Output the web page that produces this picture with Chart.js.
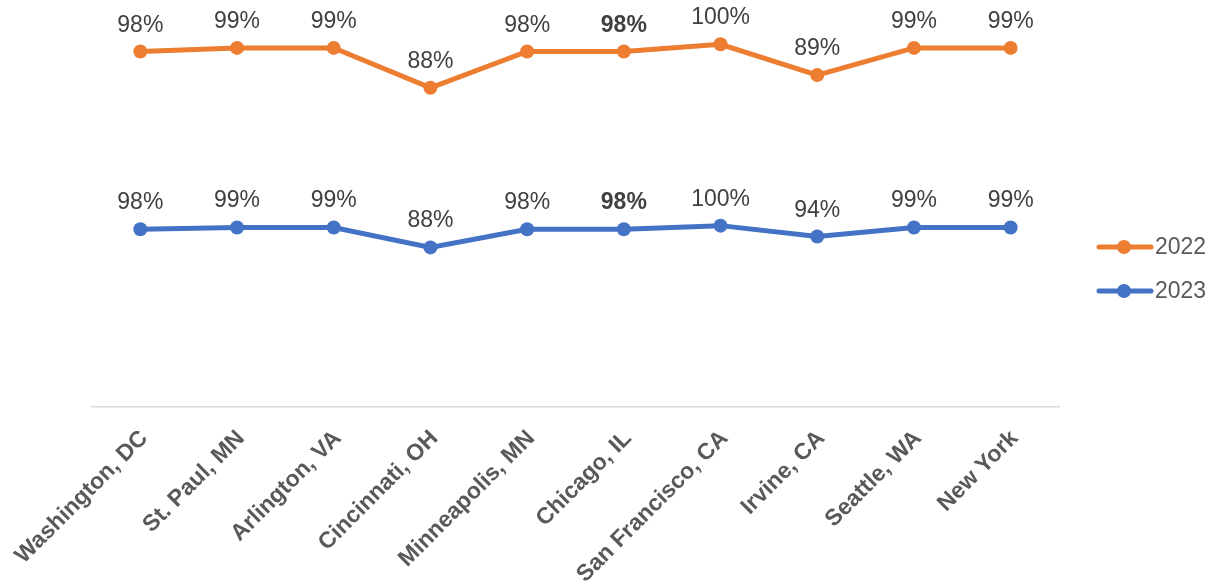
<!DOCTYPE html>
<html>
<head>
<meta charset="utf-8">
<script src="https://cdn.jsdelivr.net/npm/chart.js@4/dist/chart.umd.min.js"></script>
<style>
  html, body { margin: 0; padding: 0; background: #fff; }
  #wrap { width: 1211px; height: 584px; }
</style>
</head>
<body>
<div id="wrap"><canvas id="chart" width="1211" height="584"></canvas></div>
<script>
const cities = ['Washington, DC', 'St. Paul, MN', 'Arlington, VA', 'Cincinnati, OH', 'Minneapolis, MN',
  'Chicago, IL', 'San Francisco, CA', 'Irvine, CA', 'Seattle, WA', 'New York'];
const values2022 = [98, 99, 99, 88, 98, 98, 100, 89, 99, 99];
const values2023 = [98, 99, 99, 88, 98, 98, 100, 94, 99, 99];
const boldCity = 'Chicago, IL';

const orange = '#ED7D31';
const blue = '#4472C4';
const labelColor = '#404040';
const font = 'Liberation Sans, Arial, sans-serif';

// value labels above each point
const valueLabels = {
  id: 'valueLabels',
  afterDatasetsDraw(chart) {
    const ctx = chart.ctx;
    ctx.save();
    ctx.fillStyle = labelColor;
    ctx.textAlign = 'center';
    ctx.textBaseline = 'alphabetic';
    chart.data.datasets.forEach((ds, i) => {
      chart.getDatasetMeta(i).data.forEach((pt, j) => {
        const bold = chart.data.labels[j] === boldCity;
        ctx.font = `${bold ? 'bold ' : ''}23px ${font}`;
        ctx.fillText(ds.data[j] + '%', pt.x, pt.y - 20);
      });
    });
    ctx.restore();
  }
};

// legend on the right, line with marker
const sideLegend = {
  id: 'sideLegend',
  afterDraw(chart) {
    const ctx = chart.ctx;
    const items = [['2022', orange, 247], ['2023', blue, 291]];
    ctx.save();
    items.forEach(([text, color, y]) => {
      ctx.strokeStyle = color;
      ctx.lineWidth = 5;
      ctx.lineCap = 'round';
      ctx.beginPath();
      ctx.moveTo(1099, y);
      ctx.lineTo(1151, y);
      ctx.stroke();
      ctx.fillStyle = color;
      ctx.beginPath();
      ctx.arc(1124, y, 7, 0, Math.PI * 2);
      ctx.fill();
      ctx.fillStyle = '#595959';
      ctx.font = `23px ${font}`;
      ctx.textAlign = 'left';
      ctx.textBaseline = 'middle';
      ctx.fillText(text, 1155, y + 1);
    });
    ctx.restore();
  }
};

const lineStyle = (color) => ({
  borderColor: color,
  backgroundColor: color,
  borderWidth: 5,
  pointRadius: 7,
  pointHoverRadius: 7,
  pointBackgroundColor: color,
  pointBorderWidth: 0,
  tension: 0,
  fill: false
});

new Chart(document.getElementById('chart'), {
  type: 'line',
  data: {
    labels: cities,
    // stacked: 2023 at the bottom, 2022 on top
    datasets: [
      { label: '2023', data: values2023, ...lineStyle(blue) },
      { label: '2022', data: values2022, ...lineStyle(orange) }
    ]
  },
  options: {
    responsive: false,
    animation: false,
    layout: { padding: { left: 92, right: 152, top: 8, bottom: 0 } },
    plugins: {
      legend: { display: false },
      tooltip: { enabled: false }
    },
    scales: {
      x: {
        offset: true,
        grid: { display: false },
        border: { display: true, color: '#D9D9D9', width: 1.5 },
        ticks: {
          minRotation: 45,
          maxRotation: 45,
          padding: 10,
          labelOffset: 4,
          color: '#595959',
          font: { family: font, size: 23, weight: 'bold' }
        },
        afterFit(scale) { scale.height = 177; }
      },
      y: {
        display: false,
        stacked: true,
        min: 0,
        max: 220
      }
    }
  },
  plugins: [valueLabels, sideLegend]
});
</script>
</body>
</html>
